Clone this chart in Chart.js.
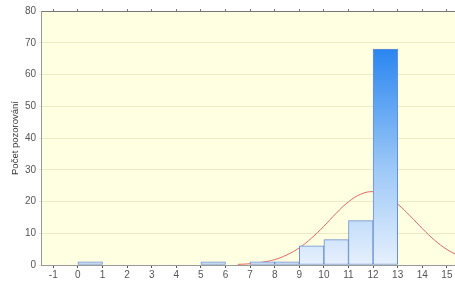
<!DOCTYPE html>
<html><head><meta charset="utf-8">
<script src="https://cdn.jsdelivr.net/npm/chart.js@4/dist/chart.umd.min.js"></script>
<style>html,body{margin:0;padding:0;background:#fff;}#w{width:455px;height:282px;}</style>
</head><body><div id="w"><canvas id="c"></canvas></div>
<script>
// Histogram bins (centre of each bin) and counts
const binCenters = [0.5, 5.5, 7.5, 8.5, 9.5, 10.5, 11.5, 12.5];
const counts     = [1,   1,   1,   1,   6,   8,   14,  68];
// Fitted normal curve
const curveX = [6.5, 7, 7.5, 8, 8.5, 9, 9.5, 10, 10.5, 11, 11.5, 12, 12.5, 13, 13.5, 14, 14.5, 15, 15.5];
const curveY = [0.2, 0.4, 0.9, 1.7, 3.2, 5.4, 8.5, 12.2, 16.3, 19.9, 22.3, 23.1, 22.0, 19.2, 15.5, 11.5, 7.8, 4.9, 2.8];
const yTicks = [0, 10, 20, 30, 40, 50, 60, 70, 80];
const xTicks = [-1, 0, 1, 2, 3, 4, 5, 6, 7, 8, 9, 10, 11, 12, 13, 14, 15];
const yTitle = 'Počet pozorování';

const bg = {
  id: 'bg',
  beforeDraw(chart) {
    const {ctx, chartArea: a} = chart;
    ctx.save();
    ctx.fillStyle = '#ffffe2';
    ctx.fillRect(a.left, a.top, a.right - a.left, a.bottom - a.top);
    ctx.restore();
  }
};

function barGrad(context) {
  const chart = context.chart;
  const a = chart.chartArea;
  if (!a) return '#8fbff5';
  const y = chart.scales.y;
  const g = chart.ctx.createLinearGradient(0, y.getPixelForValue(68), 0, a.bottom);
  g.addColorStop(0, '#2a86f0');
  g.addColorStop(0.55, '#9cc8f7');
  g.addColorStop(1, '#e6f0fd');
  return g;
}

new Chart(document.getElementById('c'), {
  data: {
    datasets: [
      {
        type: 'bar',
        data: binCenters.map((x, i) => ({x: x, y: counts[i]})),
        backgroundColor: barGrad,
        borderColor: '#6a8fcf',
        borderWidth: 1,
        borderSkipped: false,
        barPercentage: 1,
        categoryPercentage: 1,
        order: 0
      },
      {
        type: 'line',
        data: curveX.map((x, i) => ({x: x, y: curveY[i]})),
        borderColor: '#e46868',
        borderWidth: 1,
        pointRadius: 0,
        tension: 0.4,
        fill: false,
        order: 1
      }
    ]
  },
  options: {
    responsive: true,
    maintainAspectRatio: false,
    animation: false,
    layout: {padding: {left: 0, right: 0, top: 0, bottom: 0}},
    plugins: {legend: {display: false}, tooltip: {enabled: false}},
    scales: {
      x: {
        type: 'linear',
        position: 'bottom',
        offset: false,
        min: -1.5,
        max: 15.33,
        afterBuildTicks: s => { s.ticks = xTicks.map(v => ({value: v})); },
        afterFit: s => { s.height = 17; },
        ticks: {color: '#555', font: {family: 'Liberation Sans', size: 10}, padding: 1, autoSkip: false, maxRotation: 0},
        grid: {drawOnChartArea: false, tickLength: 3, color: '#555', offset: false},
        border: {color: '#999', width: 1}
      },
      x2: {
        type: 'linear',
        position: 'top',
        offset: false,
        min: -1.5,
        max: 15.33,
        afterBuildTicks: s => { s.ticks = xTicks.map(v => ({value: v})); },
        afterFit: s => { s.height = 11; },
        ticks: {display: false},
        grid: {drawOnChartArea: false, tickLength: 2, color: '#777', offset: false},
        border: {color: '#777', width: 1}
      },
      y: {
        min: 0,
        max: 80,
        afterBuildTicks: s => { s.ticks = yTicks.map(v => ({value: v})); },
        afterFit: s => { s.width = 41; },
        ticks: {color: '#555', font: {family: 'Liberation Sans', size: 10}, padding: 3},
        grid: {color: '#ecebc6', tickLength: 2, lineWidth: 1},
        border: {color: '#999', width: 1},
        title: {display: true, text: yTitle, color: '#333', font: {family: 'Liberation Sans', size: 9.5}, padding: {top: 10, bottom: 0}}
      }
    }
  },
  plugins: [bg]
});
</script>
</body></html>
